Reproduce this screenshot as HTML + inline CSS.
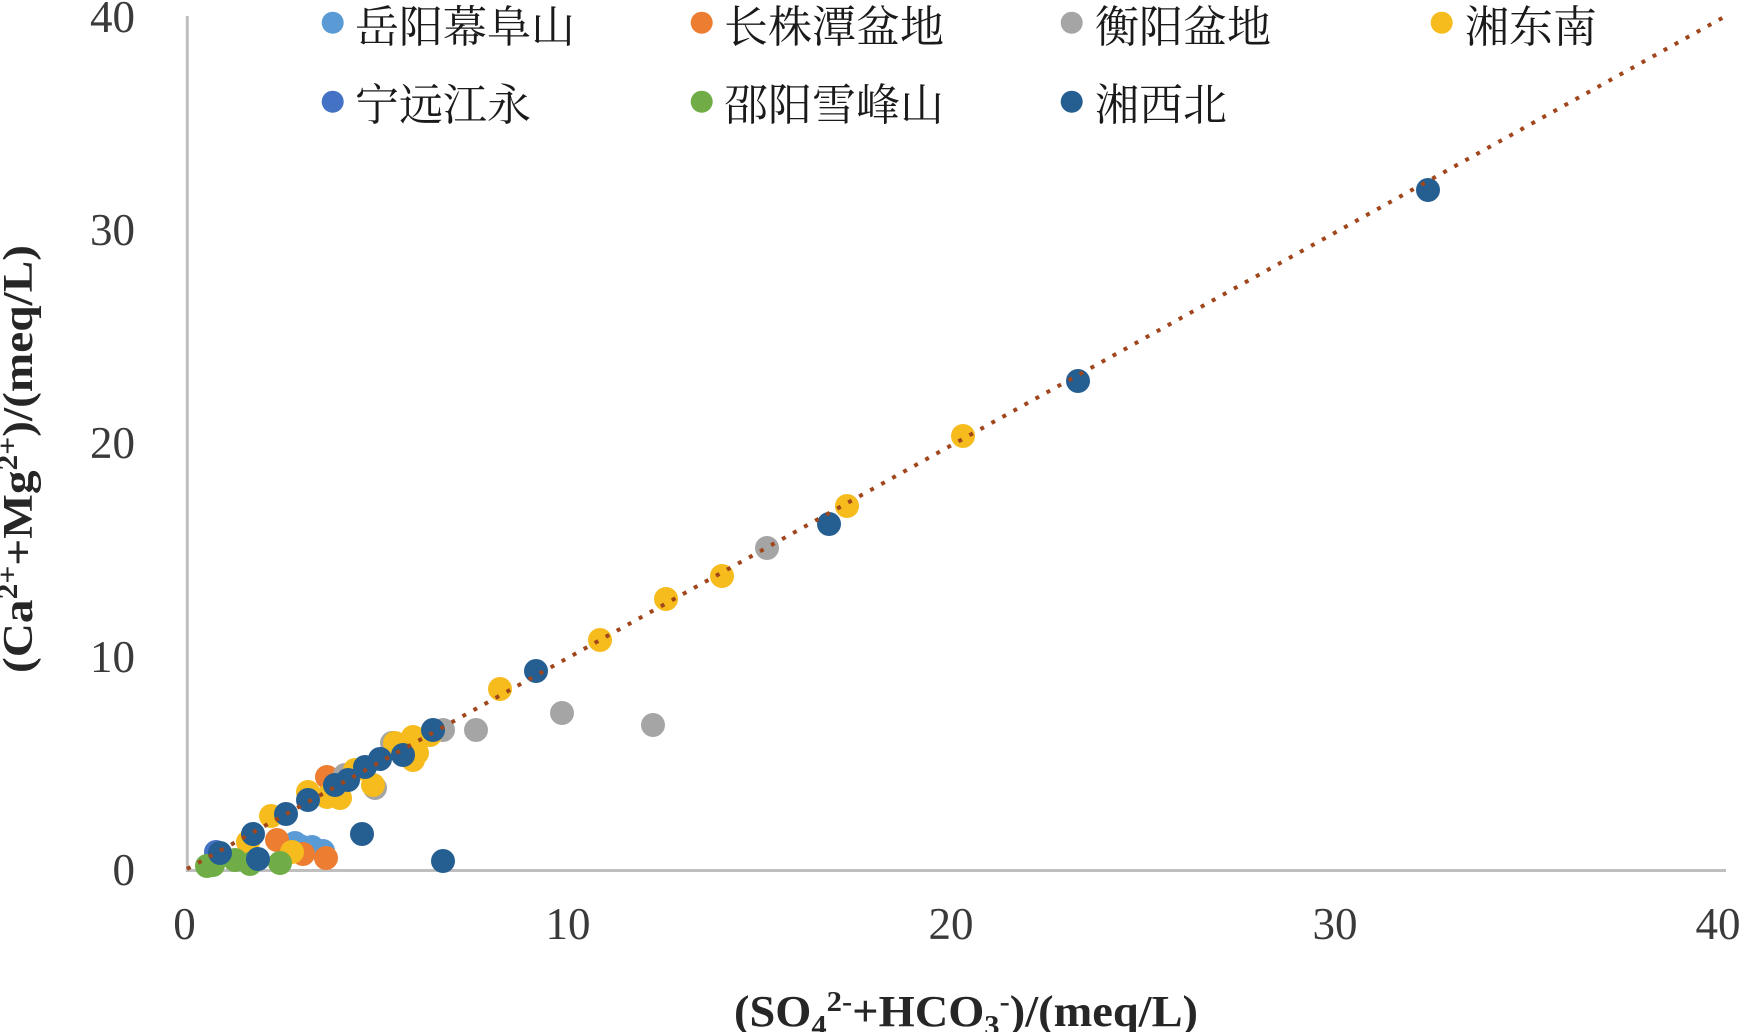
<!DOCTYPE html>
<html><head><meta charset="utf-8"><style>
html,body{margin:0;padding:0;background:#fff;}
svg{display:block;}
</style></head><body>
<svg width="1743" height="1032" viewBox="0 0 1743 1032" xmlns="http://www.w3.org/2000/svg">
<rect width="1743" height="1032" fill="#fff"/>
<!-- axes -->
<line x1="187.3" y1="16" x2="187.3" y2="872" stroke="#bfbfbf" stroke-width="3"/>
<line x1="186" y1="870.5" x2="1726" y2="870.5" stroke="#bfbfbf" stroke-width="3"/>
<!-- y tick labels -->
<g font-family="Liberation Serif, serif" font-size="45" fill="#3a3a3a" text-anchor="end">
<text x="135" y="32">40</text>
<text x="135" y="245">30</text>
<text x="135" y="458">20</text>
<text x="135" y="672">10</text>
<text x="135" y="885">0</text>
</g>
<!-- x tick labels -->
<g font-family="Liberation Serif, serif" font-size="45" fill="#3a3a3a" text-anchor="middle">
<text x="184.5" y="939">0</text>
<text x="568" y="939">10</text>
<text x="951" y="939">20</text>
<text x="1335" y="939">30</text>
<text x="1718" y="939">40</text>
</g>
<!-- axis titles -->
<text x="966" y="1026" font-family="Liberation Serif, serif" font-weight="bold" font-size="44" fill="#262626" text-anchor="middle" textLength="464" lengthAdjust="spacingAndGlyphs">(SO<tspan font-size="29" dy="9">4</tspan><tspan font-size="29" dy="-24">2-</tspan><tspan dy="15">+HCO</tspan><tspan font-size="29" dy="9">3</tspan><tspan font-size="29" dy="-24">-</tspan><tspan dy="15">)/(meq/L)</tspan></text>
<text transform="translate(32,459) rotate(-90)" x="0" y="0" font-family="Liberation Serif, serif" font-weight="bold" font-size="42" fill="#262626" text-anchor="middle" textLength="428" lengthAdjust="spacingAndGlyphs">(Ca<tspan font-size="28" dy="-15">2+</tspan><tspan dy="15">+Mg</tspan><tspan font-size="28" dy="-15">2+</tspan><tspan dy="15">)/(meq/L)</tspan></text>

<!-- series -->
<g fill="#5B9BD5">
<circle cx="295" cy="843" r="12"/><circle cx="312" cy="847" r="12"/><circle cx="323" cy="851" r="12"/><circle cx="300" cy="846" r="12"/>
</g>
<g fill="#ED7D31">
<circle cx="277" cy="840" r="12"/><circle cx="303" cy="854" r="12"/><circle cx="326" cy="858" r="12"/><circle cx="327" cy="777" r="12"/>
</g>
<g fill="#A5A5A5">
<circle cx="476" cy="730" r="12"/><circle cx="562" cy="713" r="12"/><circle cx="653" cy="725" r="12"/><circle cx="767" cy="548" r="12"/>
<circle cx="345" cy="775" r="12"/><circle cx="375" cy="788" r="12"/><circle cx="392" cy="743" r="12"/><circle cx="443" cy="730" r="12"/>
</g>
<g fill="#F6BB1C">
<circle cx="271" cy="816" r="12"/><circle cx="248" cy="842" r="12"/><circle cx="292" cy="852" r="12"/><circle cx="308" cy="792" r="12"/>
<circle cx="327" cy="797" r="12"/><circle cx="340" cy="798" r="12"/><circle cx="355" cy="770" r="12"/><circle cx="373" cy="785" r="12"/>
<circle cx="395" cy="743" r="12"/><circle cx="413" cy="737" r="12"/><circle cx="413" cy="760" r="12"/><circle cx="417" cy="753" r="12"/>
<circle cx="500" cy="689" r="12"/><circle cx="600" cy="640" r="12"/><circle cx="666" cy="599" r="12"/><circle cx="722" cy="576" r="12"/>
<circle cx="847" cy="506" r="12"/><circle cx="963" cy="436" r="12"/><circle cx="430" cy="735" r="12"/>
</g>
<g fill="#4472C4">
<circle cx="216" cy="852" r="12"/>
</g>
<g fill="#70AD47">
<circle cx="207" cy="866" r="12"/><circle cx="213" cy="865" r="12"/><circle cx="235" cy="860" r="12"/><circle cx="250" cy="864" r="12"/><circle cx="280" cy="863" r="12"/>
</g>
<g fill="#255E91">
<circle cx="220" cy="853" r="12"/><circle cx="253" cy="834" r="12"/><circle cx="286" cy="814" r="12"/><circle cx="308" cy="800" r="12"/>
<circle cx="335" cy="785" r="12"/><circle cx="348" cy="780" r="12"/><circle cx="365" cy="767" r="12"/><circle cx="380" cy="759" r="12"/>
<circle cx="403" cy="755" r="12"/><circle cx="433" cy="730" r="12"/><circle cx="362" cy="834" r="12"/><circle cx="443" cy="861" r="12"/>
<circle cx="258" cy="859" r="12"/><circle cx="536" cy="671" r="12"/><circle cx="829" cy="524" r="12"/><circle cx="1078" cy="381" r="12"/>
<circle cx="1428" cy="190" r="12"/>
</g>
<!-- trendline -->
<line x1="187" y1="869" x2="1724" y2="17" stroke="#a0461c" stroke-width="4" stroke-dasharray="4 8.6"/>

<!-- legend -->
<g>
<circle cx="332.7" cy="22.7" r="11" fill="#5B9BD5"/>
<circle cx="701.7" cy="22.7" r="11" fill="#ED7D31"/>
<circle cx="1071.7" cy="22.7" r="11" fill="#A5A5A5"/>
<circle cx="1441.7" cy="22.7" r="11" fill="#F6BB1C"/>
<circle cx="332.7" cy="101.7" r="11" fill="#4472C4"/>
<circle cx="701.7" cy="101.7" r="11" fill="#70AD47"/>
<circle cx="1071.7" cy="101.7" r="11" fill="#255E91"/>
</g>
<g font-family="Liberation Serif, 'Noto Serif CJK SC', serif" font-size="44" fill="#1a1a1a">
<text x="355" y="42">岳阳幕阜山</text>
<text x="724" y="42">长株潭盆地</text>
<text x="1095" y="42">衡阳盆地</text>
<text x="1465" y="42">湘东南</text>
<text x="355" y="120">宁远江永</text>
<text x="724" y="120">邵阳雪峰山</text>
<text x="1095" y="120">湘西北</text>
</g>
</svg>
</body></html>
